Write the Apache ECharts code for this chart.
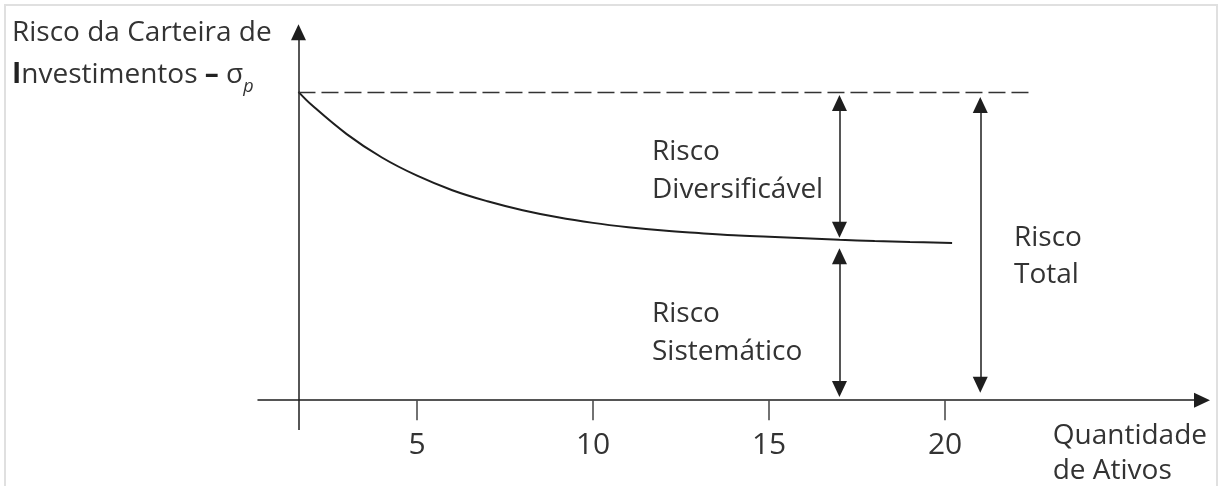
<!DOCTYPE html>
<html>
<head>
<meta charset="utf-8">
<title>Risco da Carteira de Investimentos</title>
<script src="https://cdn.jsdelivr.net/npm/echarts@6/dist/echarts.min.js"></script>
<style>
html, body { margin: 0; padding: 0; background: #fff; }
#chart { width: 1219px; height: 486px; }
</style>
</head>
<body>
<div id="chart"></div>
<script>
// quantidade de ativos na carteira
const ativos = [1.63, 2, 3, 4, 5, 6, 7, 8, 9, 10, 11, 12, 13, 14, 15, 16, 17, 18, 19, 20.2];
// risco da carteira (sigma p)
const risco = [10.0, 9.58, 8.63, 7.87, 7.28, 6.81, 6.45, 6.16, 5.93, 5.75, 5.61, 5.50, 5.42, 5.35, 5.30, 5.25, 5.20, 5.16, 5.13, 5.10];
const xTicks = [5, 10, 15, 20];

const riscoTotal = 10;
const riscoSistematico = 5.1;
const xOrigem = 1.63;      // onde fica o eixo vertical
const xDiversificavel = 17; // setas do risco diversificavel / sistematico
const xTotal = 21;          // seta do risco total
const xFimTracejado = 22.5;
const yMin = -1, yMax = 12.2;

const cor = '#1e1e1e';
const corTexto = '#333';
const fonte = 'Open Sans';

const seta = { symbol: 'triangle', symbolSize: [15, 16] };

function flecha(x, y1, y2) {
    return [
        Object.assign({ coord: [x, y1] }, seta),
        Object.assign({ coord: [x, y2] }, seta)
    ];
}

const chart = echarts.init(document.getElementById('chart'));

const option = {
    animation: false,
    backgroundColor: '#fff',
    textStyle: { fontFamily: fonte },
    grid: { left: 258, right: 17, top: 24, bottom: 55 },
    xAxis: {
        type: 'value',
        min: 0.48,
        max: 27.3,
        axisLine: {
            onZero: true,
            symbol: ['none', 'triangle'],
            symbolSize: [15, 16],
            lineStyle: { color: cor, width: 1.5 }
        },
        axisTick: {
            customValues: xTicks,
            length: 20,
            lineStyle: { color: '#444', width: 1.5 }
        },
        axisLabel: {
            customValues: xTicks,
            margin: -1,
            fontSize: 30,
            color: corTexto,
            fontFamily: fonte
        },
        splitLine: { show: false }
    },
    yAxis: {
        type: 'value',
        min: yMin,
        max: yMax,
        axisLine: { show: false },
        axisTick: { show: false },
        axisLabel: { show: false },
        splitLine: { show: false }
    },
    series: [
        {
            type: 'line',
            data: ativos.map((x, i) => [x, risco[i]]),
            smooth: 0.4,
            symbol: 'none',
            lineStyle: { color: cor, width: 2 },
            silent: true,
            markLine: {
                silent: true,
                symbol: ['none', 'none'],
                label: { show: false },
                lineStyle: { color: cor, width: 1.5, type: 'solid' },
                data: [
                    // eixo vertical
                    [
                        { coord: [xOrigem, -0.97], symbol: 'none' },
                        Object.assign({ coord: [xOrigem, 11.93] }, seta)
                    ],
                    // linha tracejada do risco total
                    [
                        { coord: [xOrigem, riscoTotal], symbol: 'none',
                          lineStyle: { type: [17, 6], width: 1.3, color: '#333' } },
                        { coord: [xFimTracejado, riscoTotal], symbol: 'none' }
                    ],
                    flecha(xDiversificavel, riscoTotal - 0.36, riscoSistematico + 0.43),
                    flecha(xDiversificavel, riscoSistematico - 0.43, 0.36),
                    flecha(xTotal, riscoTotal - 0.43, 0.5)
                ]
            }
        }
    ],
    graphic: [
        {
            type: 'rect',
            shape: { x: 5, y: 5, width: 1212, height: 495 },
            style: { fill: 'none', stroke: '#e0e0e0', lineWidth: 2 },
            silent: true
        },
        {
            type: 'text',
            left: 12,
            top: 19,
            style: {
                text: '{r|Risco da Carteira de}\n{b|I}{r|nvestimentos }{b|–}{r| σ}{sub|p}',
                rich: {
                    r: { fontSize: 28, fontFamily: fonte, fill: corTexto, lineHeight: 42 },
                    b: { fontSize: 28, fontFamily: fonte, fontWeight: 'bold', fill: '#222', lineHeight: 42 },
                    sub: { fontSize: 18, fontFamily: fonte, fontStyle: 'italic', fill: corTexto,
                           lineHeight: 42, verticalAlign: 'bottom' }
                }
            }
        },
        {
            type: 'text',
            left: 652,
            top: 133,
            style: { text: 'Risco\nDiversificável', fontSize: 28, lineHeight: 38, fontFamily: fonte, fill: corTexto }
        },
        {
            type: 'text',
            left: 652,
            top: 295,
            style: { text: 'Risco\nSistemático', fontSize: 28, lineHeight: 38, fontFamily: fonte, fill: corTexto }
        },
        {
            type: 'text',
            left: 1014,
            top: 220,
            style: { text: 'Risco\nTotal', fontSize: 28, lineHeight: 37, fontFamily: fonte, fill: corTexto }
        },
        {
            type: 'text',
            right: 12,
            top: 419,
            style: { text: 'Quantidade\nde Ativos', fontSize: 28, lineHeight: 35, fontFamily: fonte,
                     fill: corTexto, align: 'right' }
        }
    ]
};

chart.setOption(option);
</script>
</body>
</html>
